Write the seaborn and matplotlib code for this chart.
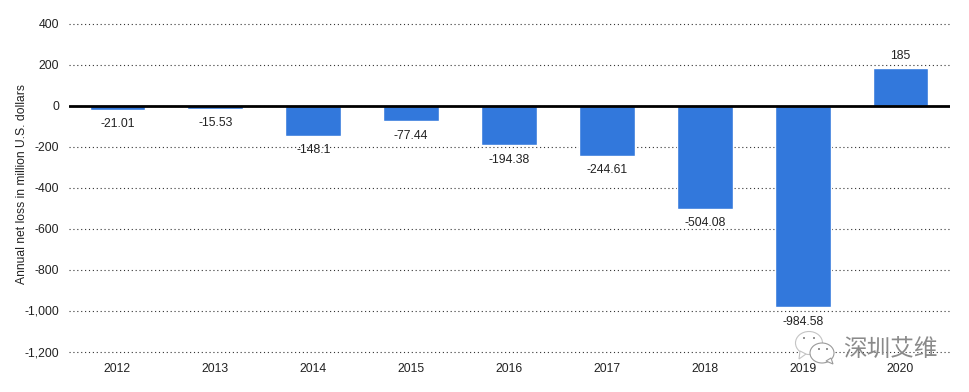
import matplotlib
matplotlib.use("Agg")
import matplotlib.pyplot as plt
from matplotlib.patches import Ellipse, Polygon
import seaborn as sns
import pandas as pd

years = ["2012","2013","2014","2015","2016","2017","2018","2019","2020"]
values = [-21.01,-15.53,-148.1,-77.44,-194.38,-244.61,-504.08,-984.58,185]
labels = ["-21.01","-15.53","-148.1","-77.44","-194.38","-244.61","-504.08","-984.58","185"]
yticks = [400,200,0,-200,-400,-600,-800,-1000,-1200]
ylabel = "Annual net loss in million U.S. dollars"
W, H = 969, 392

sns.set_theme(style="white")
plt.rcParams['font.family'] = ['Liberation Sans', 'DejaVu Sans']
df = pd.DataFrame({"year": years, "value": values})
fig = plt.figure(figsize=(W/100, H/100), dpi=100)
L, R, T, B = 68.5, 949.5, 13.25, 361.75
ax = fig.add_axes([L/W, 1-B/H, (R-L)/W, (B-T)/H])
sns.barplot(data=df, x="year", y="value", color="#3278DC", saturation=1, width=0.57, ax=ax, zorder=3)
ax.set_xlim(-0.5, 8.5)
ax.set_ylim(-1250, 450)
ax.set_yticks(yticks)
ax.set_yticklabels([f"{v:,}" for v in yticks], fontsize=8.8, color="#222222")
ax.tick_params(axis='x', labelsize=8.8, colors="#222222", length=0, pad=0.7)
ax.tick_params(axis='y', length=0, pad=6.8)
ax.set_xlabel("")
ax.set_ylabel(ylabel, fontsize=8.7, color="#222222")
ax.yaxis.set_label_coords((28-L)/(R-L), (B-184.5)/(B-T))
ax.grid(axis='y', linestyle=(0, (1, 2.5)), color="#333333", linewidth=0.8, zorder=0)
for s in ax.spines.values():
    s.set_visible(False)
ax.axhline(0, color="black", linewidth=2, zorder=4)
for i, (v, l) in enumerate(zip(values, labels)):
    ax.annotate(l, (i, v), xytext=(0, 4 if v > 0 else -6), textcoords="offset points",
                ha="center", va="bottom" if v > 0 else "top", fontsize=8.8, color="#222222", zorder=5)

# WeChat-style watermark, in pixel coordinates of the figure
overlay = fig.add_axes([0, 0, 1, 1], facecolor="none")
overlay.set_xlim(0, W)
overlay.set_ylim(H, 0)
overlay.axis("off")
ec = "#9a9a9a"
overlay.add_patch(Ellipse((809, 343), 27, 23, fc="white", ec="#c4c4c4", lw=0.8))
overlay.add_patch(Polygon([(800, 351), (799, 359), (806, 354)], fc="white", ec="#c4c4c4", lw=0.8))
overlay.add_patch(Ellipse((822, 353), 24, 20, fc="white", ec=ec, lw=0.8))
overlay.add_patch(Polygon([(826, 361), (833, 364), (831, 358)], fc="white", ec=ec, lw=0.8))
for x, y in [(804, 338), (814, 338), (819, 349), (827, 349)]:
    overlay.add_patch(Ellipse((x, y), 2, 2, fc="#777777", ec="none"))
overlay.text(890, 350, "深圳艾维", fontsize=17, color="#8a8a8a",
             family=['Noto Sans CJK SC', 'DejaVu Sans'], va="center", ha="center")
fig.savefig("out.png", dpi=100)
